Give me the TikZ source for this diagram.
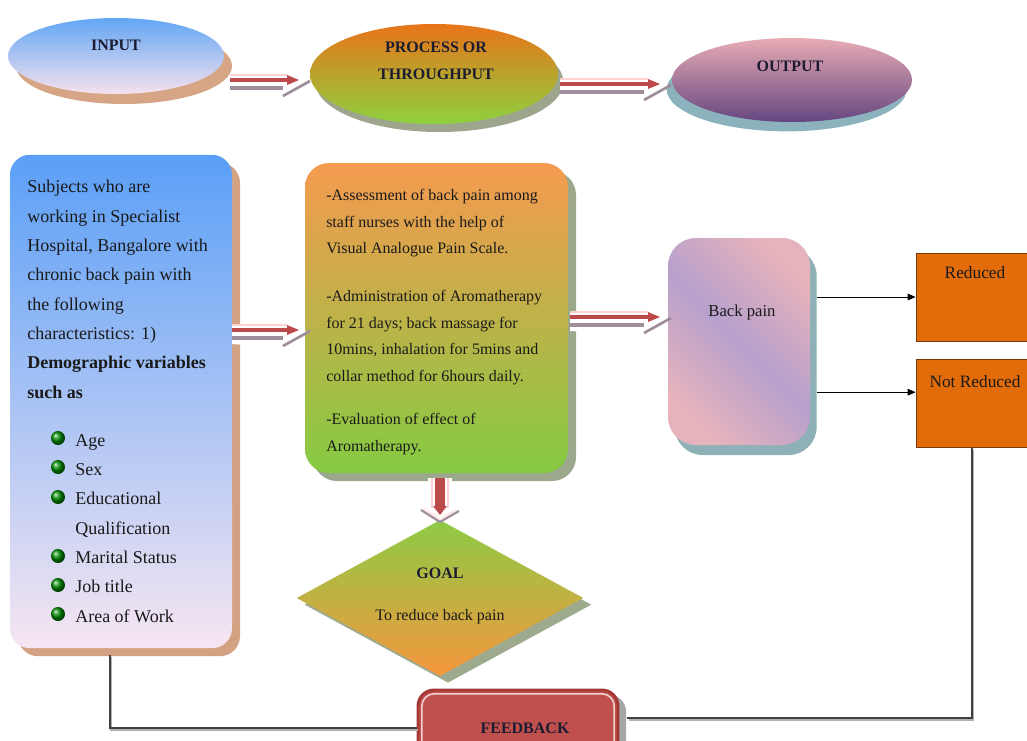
\documentclass[tikz,border=0pt]{standalone}
\usepackage{fontspec}
\setmainfont{Liberation Serif}
\usetikzlibrary{shapes.geometric,shadows,arrows.meta,calc}
\definecolor{inTop}{HTML}{62A6F4}
\definecolor{inBot}{HTML}{F6E2EE}
\definecolor{inSh}{HTML}{D6A585}
\definecolor{prTop}{HTML}{E8741A}
\definecolor{prBot}{HTML}{8ED13E}
\definecolor{prSh}{HTML}{9DA68C}
\definecolor{ouTop}{HTML}{E7ABB4}
\definecolor{ouBot}{HTML}{654680}
\definecolor{ouSh}{HTML}{8CB2BD}
\definecolor{lTop}{HTML}{5A9FF7}
\definecolor{lBot}{HTML}{F6E6F2}
\definecolor{lSh}{HTML}{D3A283}
\definecolor{mTop}{HTML}{F69A50}
\definecolor{mBot}{HTML}{85CB42}
\definecolor{mSh}{HTML}{9BA88B}
\definecolor{gTop}{HTML}{8DCB45}
\definecolor{gBot}{HTML}{F6963E}
\definecolor{gSh}{HTML}{9DAA8E}
\definecolor{bpPink}{HTML}{E6B3BC}
\definecolor{bpLav}{HTML}{B7A0CC}
\definecolor{bpSh}{HTML}{8DB1B6}
\definecolor{orBox}{HTML}{E36C0A}
\definecolor{orBrd}{HTML}{7A3A0A}
\definecolor{fbFill}{HTML}{C0504D}
\definecolor{fbBrd}{HTML}{A33835}
\definecolor{fbSh}{HTML}{A6A6A6}
\definecolor{arRed}{HTML}{BC4A4A}
\definecolor{arGray}{HTML}{9E8E9C}
\definecolor{txt}{HTML}{1A1A1A}
\definecolor{ttl}{HTML}{1C1C30}
\tikzset{
  ell/.style={ellipse, inner sep=0pt, draw=none},
  ttlfont/.style={font=\fontsize{12}{20}\selectfont\bfseries, text=ttl, inner sep=0pt, align=center},
  lblfont/.style={font=\fontsize{12.5}{20}\selectfont, text=txt, inner sep=0pt, align=center},
  txtL/.style={font=\fontsize{13.5}{22}\selectfont, text=txt, align=left, inner sep=0pt, anchor=north west},
  txtM/.style={font=\fontsize{12}{19.9}\selectfont, text=txt, align=left, inner sep=0pt, anchor=north west},
  obox/.style={rectangle, fill=orBox, draw=orBrd, line width=0.6pt, inner sep=0pt,
    minimum width=93pt, minimum height=66pt},
  thinarr/.style={draw=black, line width=0.7pt, -{Triangle[length=6pt,width=5pt]}},
  fbline/.style={draw=black!75, line width=0.9pt,
    preaction={draw=black!30, line width=1.2pt, transform canvas={xshift=0.8pt,yshift=-1.4pt}}},
  ball/.style={ball color=green!55!black, draw=none},
  pics/blkarrow/.style={code={
    \fill[white] (0,-10) -- ({#1-20},-10) -- ({#1-20},-14) -- (#1,-2) -- ({#1-22},14) -- (0,10) -- cycle;
    \draw[red!18, line width=0.8pt] (0,-9) -- ({#1-20},-9);
    \fill[arRed] (0,-6) rectangle ({#1-18},-2);
    \fill[arRed] ({#1-20},-9) -- ({#1-8},-4) -- ({#1-20},1) -- cycle;
    \fill[arGray] (0,2) rectangle ({#1-24},5.5);
    \draw[arGray, line width=2pt] ({#1-24},12) -- ({#1+3},-3);
  }},
  pics/downarrow/.style={code={
    \fill[white] (-12,0) rectangle (12,30);
    \draw[red!18, line width=0.8pt] (-8,0) -- (-8,30) (8,0) -- (8,30);
    \fill[arRed] (-5,0) rectangle (5,30);
    \fill[arRed] (-7,28) -- (7,28) -- (0,37) -- cycle;
    \fill[red!8] (-19,32) -- (0,44) -- (19,33) -- (15,31) -- (0,40) -- (-15,30) -- cycle;
    \draw[arGray, line width=1.6pt] (-19,32) -- (0,44) -- (19,33);
  }}
}
\begin{document}
\begin{tikzpicture}[x=0.75pt,y=-0.75pt]
\useasboundingbox (0,0) rectangle (1027,740);
\fill[white] (0,0) rectangle (1027,740);
\clip (0,0) rectangle (1027,740);

% ---- top ellipses
\node[ell, minimum width=162pt, minimum height=57pt, top color=inTop, bottom color=inBot,
  drop shadow={fill=inSh, shadow xshift=6pt, shadow yshift=-7.5pt, opacity=1}] (inp) at (116,56) {};
\node[ttlfont] (inpT) at (116,45) {INPUT};

\node[ell, minimum width=186pt, minimum height=75pt, top color=prTop, bottom color=prBot,
  drop shadow={fill=prSh, shadow xshift=4pt, shadow yshift=-6pt, opacity=1}] (proc) at (434,74) {};
\node[ttlfont] (procT) at (436,61) {PROCESS OR\\THROUGHPUT};

\node[ell, minimum width=180pt, minimum height=63pt, top color=ouTop, bottom color=ouBot,
  drop shadow={fill=ouSh, shadow xshift=-4pt, shadow yshift=-7pt, opacity=1}] (outp) at (792,80) {};
\node[ttlfont] (outT) at (790,66) {OUTPUT};

% ---- left box
\node[rectangle, rounded corners=15pt, minimum width=166.5pt, minimum height=370pt, inner sep=0pt,
  top color=lTop, bottom color=lBot,
  drop shadow={fill=lSh, shadow xshift=6pt, shadow yshift=-6pt, opacity=1}] (lbox) at (121,401.5) {};
\node[txtL] (ltxt) at (27,180) {Subjects who are\\working in Specialist\\Hospital, Bangalore with\\chronic back pain with\\the following\\characteristics: 1)\\\textbf{Demographic variables}\\\textbf{such as}};
\node[txtL] (litems) at (75,434) {Age\\Sex\\Educational\\Qualification\\Marital Status\\Job title\\Area of Work};
\foreach \yy in {438,467,497,556,585,614}{
  \shade[ball] (58,\yy) circle[radius=7];
}

% ---- middle box
\node[rectangle, rounded corners=18pt, minimum width=197.25pt, minimum height=232.5pt, inner sep=0pt,
  top color=mTop, bottom color=mBot,
  drop shadow={fill=mSh, shadow xshift=6pt, shadow yshift=-6pt, opacity=1}] (mbox) at (436.5,318) {};
\node[txtM] (mtxt) at (326,189) {-Assessment of back pain among\\staff nurses with the help of\\Visual Analogue Pain Scale.\\[16pt]-Administration of Aromatherapy\\for 21 days; back massage for\\10mins, inhalation for 5mins and\\collar method for 6hours daily.\\[13pt]-Evaluation of effect of\\Aromatherapy.};

% ---- goal diamond
\node[diamond, aspect=1.84, minimum width=215pt, minimum height=117pt, inner sep=0pt,
  top color=gTop, bottom color=gBot,
  drop shadow={fill=gSh, shadow xshift=6pt, shadow yshift=-5pt, opacity=1}] (goal) at (440,598) {};
\node[ttlfont] (goalT) at (440,573) {GOAL};
\node[lblfont, font=\fontsize{12}{20}\selectfont] (goalS) at (440,617) {To reduce back pain};

% ---- back pain box
\node[rectangle, rounded corners=21pt, minimum width=106.5pt, minimum height=155.25pt, inner sep=0pt,
  shading=axis, top color=bpPink, bottom color=bpPink, middle color=bpLav, shading angle=-45,
  drop shadow={fill=bpSh, shadow xshift=5pt, shadow yshift=-7.5pt, opacity=1}] (bpain) at (739,341.5) {};
\node[lblfont] (bpT) at (742,312) {Back pain};

% ---- outcome boxes
\node[obox] (red) at (978,297) {};
\node[lblfont, font=\fontsize{13}{20}\selectfont] (redT) at (975,273) {Reduced};
\node[obox] (nred) at (978,403.5) {};
\node[lblfont, font=\fontsize{13}{20}\selectfont] (nredT) at (975,382) {Not Reduced};

\draw[thinarr] ([xshift=5pt]bpain.east |- red.west) -- (red.west);
\draw[thinarr] ([xshift=5pt,yshift=8.5pt]bpain.east |- nred.west) -- ([yshift=8.5pt]nred.west);

% ---- feedback node
\node[rectangle, rounded corners=12pt, minimum width=150pt, minimum height=60pt, inner sep=0pt,
  fill=fbFill, draw=fbBrd, line width=2.2pt,
  drop shadow={fill=fbSh, shadow xshift=6pt, shadow yshift=-4pt, opacity=1}] (fb) at (518,730) {};

% ---- feedback loop lines (drawn behind the box look)
\draw[fbline] ([xshift=-8.25pt,yshift=-5pt]lbox.south) |- ([yshift=1.5pt]fb.west);
\draw[fbline] ([xshift=-4.5pt]nred.south) |- ([yshift=9pt,xshift=6pt]fb.east);

\draw[white!75!fbFill, line width=1.2pt, rounded corners=9pt]
  ([xshift=4pt,yshift=-4pt]fb.north west) rectangle ([xshift=-4pt,yshift=4pt]fb.south east);
\node[ttlfont] (fbT) at (525,728) {FEEDBACK};

% ---- block arrows
\pic at (230,84) {blkarrow=77};
\pic at (560,88) {blkarrow=108};
\pic at (232,334) {blkarrow=75};
\pic at (570,321) {blkarrow=98};
\pic at (440,478) {downarrow};
\end{tikzpicture}
\end{document}
